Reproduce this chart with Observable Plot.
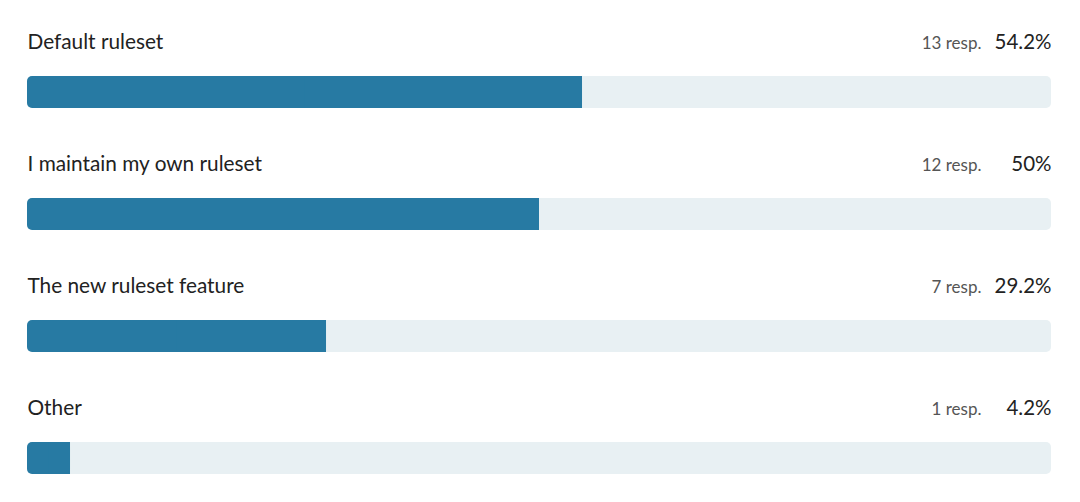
<!DOCTYPE html>
<html>
<head>
<meta charset="utf-8">
<script src="https://cdn.jsdelivr.net/npm/d3@7"></script>
<script src="https://cdn.jsdelivr.net/npm/@observablehq/plot@0.6"></script>
<style>
  html, body { margin: 0; padding: 0; background: #fff; }
  #chart svg { display: block; }
</style>
</head>
<body>
<div id="chart"></div>
<script>
const categories = ["Default ruleset", "I maintain my own ruleset", "The new ruleset feature", "Other"];
const responses = [13, 12, 7, 1];
const percents = [54.2, 50, 29.2, 4.2];
const percentLabels = ["54.2%", "50%", "29.2%", "4.2%"];

const rows = categories.map((c, i) => ({
  category: c,
  resp: responses[i],
  pct: percents[i],
  pctLabel: percentLabels[i],
  respLabel: responses[i] + " resp."
}));

const font = "'Source Sans Pro', Lato, 'Open Sans', sans-serif";

const chart = Plot.plot({
  width: 1080,
  height: 502,
  margin: 0,
  style: { fontFamily: font, background: "#fff" },
  x: { domain: [0, 100], range: [27, 1051], axis: null },
  y: {
    type: "band",
    domain: categories,
    range: [76, 474],
    paddingInner: 90 / 122,
    paddingOuter: 0,
    align: 0,
    axis: null
  },
  marks: [
    Plot.barX(rows, { x1: 0, x2: 100, y: "category", fill: "#e8f0f3", rx: 5 }),
    Plot.barX(rows, { x1: 0, x2: "pct", y: "category", fill: "#277aa3", rx: 5 }),
    Plot.barX(rows, { x1: d => d.pct / 2, x2: "pct", y: "category", fill: "#277aa3" }),
    Plot.text(rows, {
      x: 0, y: "category", text: "category", textAnchor: "start", lineAnchor: "bottom",
      dy: -43.5, fontSize: 20.8, fill: "#222"
    }),
    Plot.text(rows, {
      x: 100, y: "category", text: "pctLabel", textAnchor: "end", lineAnchor: "bottom",
      dy: -43.5, fontSize: 20.5, fill: "#222"
    }),
    Plot.text(rows, {
      x: 100, y: "category", text: "respLabel", textAnchor: "end", lineAnchor: "bottom",
      dx: -70, dy: -43.5, fontSize: 17, fill: "#555"
    })
  ]
});

document.getElementById("chart").appendChild(chart);
</script>
</body>
</html>
